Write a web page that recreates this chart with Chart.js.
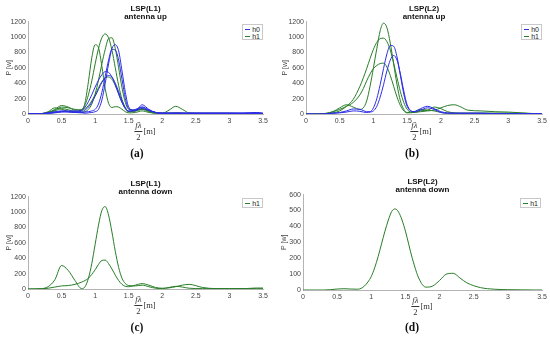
<!DOCTYPE html>
<html>
<head>
<meta charset="utf-8">
<script src="https://cdn.jsdelivr.net/npm/chart.js@4"></script>
<style>
body { margin: 0; background: #fff; }
#wrap { position: relative; width: 550px; height: 338px; overflow: hidden; font-family: "Liberation Sans", Arial, sans-serif; }
#wrap canvas { position: absolute; }
.cap { position: absolute; font-family: "Liberation Serif", serif; font-weight: bold; font-size: 11.5px; transform: translate(-50%, -50%); color: #111; }
.xl { position: absolute; font-family: "Liberation Serif", serif; font-size: 8.5px; display: flex; align-items: center; transform: translate(-50%, -50%); color: #333; white-space: nowrap; }
.frac { display: inline-flex; flex-direction: column; align-items: center; line-height: 1; margin-right: 1px; }
.frac .num { font-style: italic; border-bottom: 0.7px solid #333; padding: 0 1px 1px; }
.frac .den { padding-top: 1px; }
.leg { position: absolute; border: 1px solid #c8c8c8; background: #fff; font-size: 7px; color: #222; box-sizing: border-box; padding: 1px 2px; }
.leg div { display: flex; align-items: center; height: 7px; }
.leg .sw { display: inline-block; width: 7px; border-top: 1px solid; margin-right: 2px; }
</style>
</head>
<body>
<div id="wrap"></div>
<script>
// x positions (f*lambda/2 in m), denser around the main peak
const xGrid = [0, 0.2, 0.3, 0.4, 0.5, 0.6, 0.7, 0.8, 0.85, 0.9, 0.95, 1.0, 1.05, 1.1, 1.15, 1.2, 1.25, 1.3, 1.35, 1.4, 1.45, 1.5, 1.6, 1.7, 1.8, 1.9, 2.0, 2.1, 2.2, 2.3, 2.4, 2.6, 2.8, 3.0, 3.2, 3.4, 3.5];
const xTicks = [0, 0.5, 1, 1.5, 2, 2.5, 3, 3.5];

// (a) LSP(L1) antenna up
const aH0_1 = [0, 5, 15, 30, 40, 30, 20, 15, 10, 15, 20, 30, 60, 180, 400, 650, 850, 900, 820, 560, 280, 90, 40, 120, 60, 20, 10, 10, 10, 10, 10, 10, 10, 10, 10, 20, 10];
const aH0_2 = [0, 5, 10, 20, 30, 25, 20, 20, 25, 30, 40, 60, 130, 280, 490, 700, 840, 830, 700, 450, 200, 70, 50, 90, 50, 20, 10, 10, 10, 10, 10, 10, 10, 10, 10, 15, 10];
const aH0_3 = [0, 5, 10, 20, 35, 40, 40, 50, 90, 160, 250, 350, 440, 510, 550, 540, 480, 380, 260, 150, 70, 40, 60, 90, 50, 20, 10, 10, 10, 10, 10, 10, 10, 10, 10, 10, 5];
const aH0_4 = [0, 3, 8, 15, 25, 30, 30, 30, 50, 90, 150, 230, 320, 410, 470, 500, 480, 400, 290, 170, 80, 35, 50, 70, 45, 20, 10, 10, 10, 10, 10, 10, 10, 10, 10, 10, 5];
const aH1_1 = [0, 5, 30, 80, 60, 35, 25, 40, 150, 420, 730, 900, 860, 620, 330, 140, 85, 95, 90, 60, 30, 15, 20, 40, 20, 10, 5, 5, 8, 8, 5, 5, 5, 3, 3, 2, 0];
const aH1_2 = [0, 5, 20, 60, 110, 90, 50, 60, 120, 250, 430, 650, 850, 990, 1040, 990, 830, 600, 370, 190, 80, 30, 40, 60, 30, 10, 10, 50, 100, 60, 15, 10, 10, 10, 5, 5, 0];
const aH1_3 = [0, 3, 15, 40, 70, 55, 30, 20, 30, 60, 130, 260, 440, 650, 840, 980, 990, 850, 600, 340, 150, 60, 50, 70, 40, 15, 10, 10, 15, 10, 5, 5, 5, 5, 5, 5, 0];
const aH1_4 = [0, 5, 20, 50, 90, 80, 60, 50, 70, 110, 170, 250, 340, 420, 470, 480, 450, 370, 260, 150, 70, 30, 40, 60, 40, 15, 10, 10, 10, 10, 5, 5, 5, 5, 5, 5, 0];

// (b) LSP(L2) antenna up
const bH0_1 = [0, 0, 5, 10, 20, 40, 65, 60, 45, 30, 30, 80, 200, 380, 590, 780, 890, 880, 740, 500, 260, 100, 30, 70, 100, 70, 30, 15, 10, 10, 10, 10, 5, 5, 5, 5, 5];
const bH0_2 = [0, 0, 5, 10, 15, 25, 40, 35, 25, 20, 25, 40, 100, 220, 380, 560, 700, 760, 700, 520, 300, 120, 30, 50, 80, 60, 20, 10, 10, 10, 10, 10, 5, 5, 5, 5, 5];
const bH1_1 = [0, 0, 5, 30, 80, 120, 90, 60, 80, 170, 360, 600, 850, 1080, 1180, 1120, 920, 650, 380, 170, 60, 20, 30, 60, 50, 90, 70, 30, 15, 10, 10, 10, 10, 10, 5, 5, 5];
const bH1_2 = [0, 0, 5, 15, 40, 100, 190, 360, 470, 590, 720, 840, 930, 980, 985, 940, 830, 660, 470, 290, 150, 60, 20, 40, 50, 40, 20, 10, 10, 10, 10, 10, 10, 10, 10, 5, 5];
const bH1_3 = [0, 0, 10, 30, 60, 100, 150, 250, 330, 430, 520, 590, 630, 655, 660, 610, 500, 360, 220, 110, 40, 15, 20, 30, 40, 50, 80, 110, 120, 90, 50, 40, 30, 25, 15, 5, 5];

// (c) LSP(L1) antenna down
const cH1_1 = [0, 5, 30, 120, 305, 240, 110, 5, 30, 140, 330, 580, 830, 1020, 1070, 960, 740, 490, 280, 140, 70, 45, 40, 50, 30, 10, 5, 20, 35, 25, 10, 5, 5, 5, 5, 10, 10];
const cH1_2 = [0, 3, 10, 25, 40, 45, 60, 90, 110, 140, 190, 250, 320, 370, 375, 330, 260, 180, 110, 60, 35, 30, 50, 70, 50, 20, 10, 15, 30, 50, 60, 20, 5, 5, 5, 10, 10];

// (d) LSP(L2) antenna down
const dH1 = [0, 0, 0, 2, 6, 8, 6, 5, 10, 25, 50, 85, 140, 210, 290, 370, 440, 495, 510, 490, 440, 370, 200, 70, 18, 25, 60, 100, 105, 75, 45, 15, 5, 2, 1, 0, 0];

const BLUE = 'rgb(45,45,230)';
const GREEN = 'rgb(40,125,40)';
const FONT = '"Liberation Sans", Arial, sans-serif';

const panels = [
  { left: 0, top: 0, h: 126, padTop: 4, padRight: 12, yWidth: 28, yTitlePad: 5, yMax: 1200, yStep: 200,
    title: ['LSP(L1)', 'antenna up'], h0: [aH0_1, aH0_2, aH0_3, aH0_4], h1: [aH1_1, aH1_2, aH1_3, aH1_4],
    cap: '(a)', capX: 137, capY: 153, xlX: 145, xlY: 131, leg: [242, 24, 21, 16] },
  { left: 275, top: 0, h: 126, padTop: 4, padRight: 8, yWidth: 31, yTitlePad: 6, yMax: 1200, yStep: 200,
    title: ['LSP(L2)', 'antenna up'], h0: [bH0_1, bH0_2], h1: [bH1_1, bH1_2, bH1_3],
    cap: '(b)', capX: 412, capY: 153, xlX: 421, xlY: 131, leg: [521, 24, 21, 16] },
  { left: 0, top: 169, h: 132, padTop: 10, padRight: 12, yWidth: 28, yTitlePad: 5, yMax: 1200, yStep: 200,
    title: ['LSP(L1)', 'antenna down'], h0: [], h1: [cH1_1, cH1_2],
    cap: '(c)', capX: 137, capY: 327, xlX: 145, xlY: 305, leg: [242, 198, 21, 10] },
  { left: 275, top: 169, h: 133, padTop: 8, padRight: 8, yWidth: 28, yTitlePad: 5, yMax: 600, yStep: 100,
    title: ['LSP(L2)', 'antenna down'], h0: [], h1: [dH1],
    cap: '(d)', capX: 412, capY: 327, xlX: 422, xlY: 306, leg: [520, 198, 21, 10] }
];

const wrap = document.getElementById('wrap');

function series(ys, color) {
  return {
    data: ys.map((y, i) => ({ x: xGrid[i], y: y })),
    borderColor: color,
    borderWidth: 1,
    pointRadius: 0,
    cubicInterpolationMode: 'monotone',
    fill: false
  };
}

panels.forEach(p => {
  const cv = document.createElement('canvas');
  cv.style.left = p.left + 'px';
  cv.style.top = p.top + 'px';
  cv.style.width = '275px';
  cv.style.height = p.h + 'px';
  cv.width = 275;
  cv.height = p.h;
  wrap.appendChild(cv);

  const datasets = p.h0.map(s => series(s, BLUE)).concat(p.h1.map(s => series(s, GREEN)));

  new Chart(cv.getContext('2d'), {
    type: 'line',
    data: { datasets: datasets },
    options: {
      responsive: false,
      animation: false,
      layout: { padding: { left: 0, right: p.padRight, top: 0, bottom: 0 } },
      plugins: {
        legend: { display: false },
        tooltip: { enabled: false },
        title: {
          display: true,
          text: p.title,
          fullSize: false,
          color: '#111',
          font: { family: FONT, size: 8, weight: 'bold', lineHeight: 1.1 },
          padding: { top: p.padTop, bottom: 0 }
        }
      },
      scales: {
        x: {
          type: 'linear',
          min: 0,
          max: 3.5,
          afterBuildTicks: s => { s.ticks = xTicks.map(v => ({ value: v })); },
          afterFit: s => { s.height = 12; },
          grid: { display: false, drawTicks: false },
          border: { display: true, color: '#a0a0a0', width: 0.8 },
          ticks: { color: '#444', font: { family: FONT, size: 7 }, padding: 3, maxRotation: 0, autoSkip: false, callback: v => String(v) }
        },
        y: {
          min: 0,
          max: p.yMax,
          afterFit: s => { s.width = p.yWidth; },
          grid: { display: false, drawTicks: false },
          border: { display: true, color: '#a0a0a0', width: 0.8 },
          ticks: { stepSize: p.yStep, color: '#444', font: { family: FONT, size: 7 }, padding: 2, callback: v => String(v) },
          title: { display: true, text: 'P [w]', color: '#444', font: { family: FONT, size: 7 }, padding: { top: p.yTitlePad, bottom: 0 } }
        }
      }
    }
  });

  // x axis label  f·lambda / 2 [m]
  const xl = document.createElement('div');
  xl.className = 'xl';
  xl.style.left = p.xlX + 'px';
  xl.style.top = p.xlY + 'px';
  xl.innerHTML = '<span class="frac"><span class="num">fλ</span><span class="den">2</span></span><span>[m]</span>';
  wrap.appendChild(xl);

  // legend box inside the plot
  const lg = document.createElement('div');
  lg.className = 'leg';
  lg.style.left = p.leg[0] + 'px';
  lg.style.top = p.leg[1] + 'px';
  lg.style.width = p.leg[2] + 'px';
  lg.style.height = p.leg[3] + 'px';
  let html = '';
  if (p.h0.length) html += '<div><span class="sw" style="border-color:' + BLUE + '"></span>h0</div>';
  html += '<div><span class="sw" style="border-color:' + GREEN + '"></span>h1</div>';
  lg.innerHTML = html;
  wrap.appendChild(lg);

  const cap = document.createElement('div');
  cap.className = 'cap';
  cap.style.left = p.capX + 'px';
  cap.style.top = p.capY + 'px';
  cap.textContent = p.cap;
  wrap.appendChild(cap);
});
</script>
</body>
</html>
